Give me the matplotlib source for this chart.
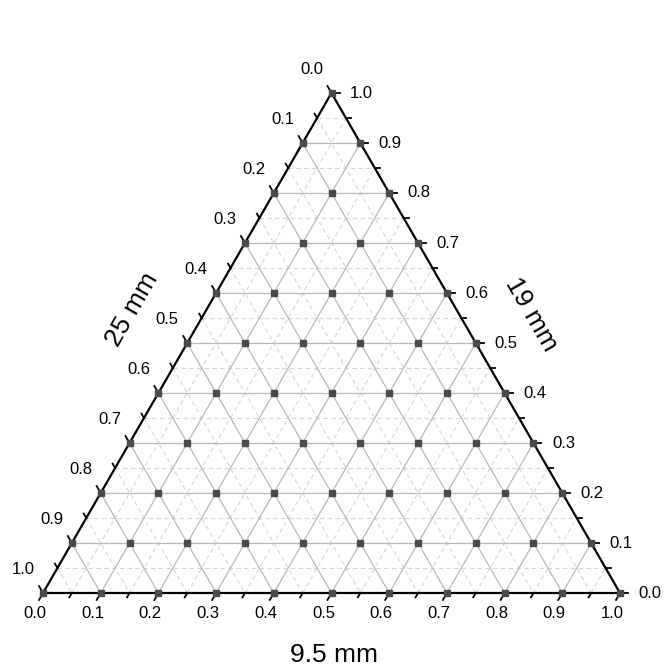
import numpy as np
import matplotlib.pyplot as plt

plt.rcParams['font.family'] = ['Liberation Sans', 'DejaVu Sans']

# tick values used on all three axes
major_ticks = [0.0, 0.1, 0.2, 0.3, 0.4, 0.5, 0.6, 0.7, 0.8, 0.9, 1.0]
minor_ticks = [0.05, 0.15, 0.25, 0.35, 0.45, 0.55, 0.65, 0.75, 0.85, 0.95]
tick_labels = ['0.0', '0.1', '0.2', '0.3', '0.4', '0.5', '0.6', '0.7', '0.8', '0.9', '1.0']

# blend points, row by row from the apex down
# fraction of 9.5 mm (bottom axis)
frac_95 = [
    0.0,
    0.0, 0.1,
    0.0, 0.1, 0.2,
    0.0, 0.1, 0.2, 0.3,
    0.0, 0.1, 0.2, 0.3, 0.4,
    0.0, 0.1, 0.2, 0.3, 0.4, 0.5,
    0.0, 0.1, 0.2, 0.3, 0.4, 0.5, 0.6,
    0.0, 0.1, 0.2, 0.3, 0.4, 0.5, 0.6, 0.7,
    0.0, 0.1, 0.2, 0.3, 0.4, 0.5, 0.6, 0.7, 0.8,
    0.0, 0.1, 0.2, 0.3, 0.4, 0.5, 0.6, 0.7, 0.8, 0.9,
    0.0, 0.1, 0.2, 0.3, 0.4, 0.5, 0.6, 0.7, 0.8, 0.9, 1.0,
]
# fraction of 19 mm (right axis)
frac_19 = [
    1.0,
    0.9, 0.9,
    0.8, 0.8, 0.8,
    0.7, 0.7, 0.7, 0.7,
    0.6, 0.6, 0.6, 0.6, 0.6,
    0.5, 0.5, 0.5, 0.5, 0.5, 0.5,
    0.4, 0.4, 0.4, 0.4, 0.4, 0.4, 0.4,
    0.3, 0.3, 0.3, 0.3, 0.3, 0.3, 0.3, 0.3,
    0.2, 0.2, 0.2, 0.2, 0.2, 0.2, 0.2, 0.2, 0.2,
    0.1, 0.1, 0.1, 0.1, 0.1, 0.1, 0.1, 0.1, 0.1, 0.1,
    0.0, 0.0, 0.0, 0.0, 0.0, 0.0, 0.0, 0.0, 0.0, 0.0, 0.0,
]

H = np.sqrt(3) / 2


def tern(a, c):
    # a = 9.5 mm (bottom), c = 19 mm (right), 25 mm = 1 - a - c
    a = np.asarray(a, dtype=float)
    c = np.asarray(c, dtype=float)
    return a + c / 2, c * H


fig = plt.figure(figsize=(6.64, 6.66), dpi=100)
ax = fig.add_axes([43 / 664, 73 / 666, 577 / 664, 500 / 666])
ax.set_xlim(0, 1)
ax.set_ylim(0, H)
ax.axis('off')

major_col = '#b8b8b8'
minor_col = '#d6d6d6'


def grid_lines(vals, **kw):
    for v in vals:
        # constant 9.5 mm
        x, y = tern([v, v], [0, 1 - v])
        ax.plot(x, y, **kw)
        # constant 19 mm
        x, y = tern([0, 1 - v], [v, v])
        ax.plot(x, y, **kw)
        # constant 25 mm
        x, y = tern([0, 1 - v], [1 - v, 0])
        ax.plot(x, y, **kw)


grid_lines(minor_ticks, color=minor_col, lw=0.8, ls=(0, (4, 3)), zorder=1)
grid_lines(major_ticks[1:-1], color=major_col, lw=0.9, zorder=2)

# triangle frame
x, y = tern([0, 1, 0, 0], [0, 0, 1, 0])
ax.plot(x, y, color='black', lw=1.6, zorder=5, clip_on=False,
        solid_joinstyle='miter')

# ticks
px = 1 / 577
d_bot = np.array([-0.5, -H])
d_right = np.array([1.0, 0.0])
d_left = np.array([-0.5, H])


def tick(p, d, length):
    ax.plot([p[0], p[0] + d[0] * length * px], [p[1], p[1] + d[1] * length * px],
            color='black', lw=1.3, zorder=5, clip_on=False)


for vals, ln in ((major_ticks, 8), (minor_ticks, 5)):
    for v in vals:
        tick(tern(v, 0), d_bot, ln)
        tick(tern(1 - v, v), d_right, ln)
        tick(tern(0, 1 - v), d_left, ln)

# tick labels
for v, lab in zip(major_ticks, tick_labels):
    ax.annotate(lab, tern(v, 0), xytext=(-8, -20), textcoords='offset pixels',
                ha='center', va='center', fontsize=12, annotation_clip=False)
    ax.annotate(lab, tern(1 - v, v), xytext=(30, 0), textcoords='offset pixels',
                ha='center', va='center', fontsize=12, annotation_clip=False)
    ax.annotate(lab, tern(0, 1 - v), xytext=(-20, 23), textcoords='offset pixels',
                ha='center', va='center', fontsize=12, annotation_clip=False)

# blend points
x, y = tern(frac_95, frac_19)
ax.plot(x, y, 's', color='#4a4a4a', ms=4.8, mec='#4a4a4a', zorder=6, clip_on=False)

# axis titles
fig.text(334 / 664, 1 - 655 / 666, '9.5 mm', ha='center', va='center', fontsize=19)
fig.text(132 / 664, 1 - 310 / 666, '25 mm', ha='center', va='center', fontsize=19,
         rotation=60, rotation_mode='anchor')
fig.text(531 / 664, 1 - 314 / 666, '19 mm', ha='center', va='center', fontsize=19,
         rotation=-60, rotation_mode='anchor')

fig.savefig('out.png', dpi=100, facecolor='white')
